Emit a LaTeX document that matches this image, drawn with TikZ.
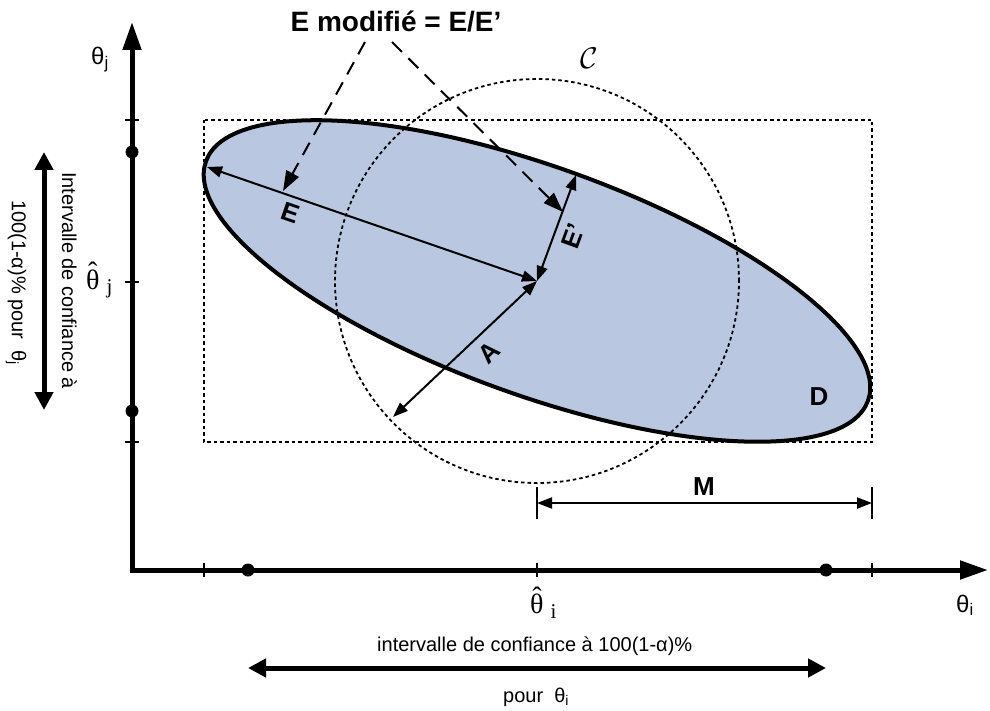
\RequirePackage{fix-cm}
\documentclass[tikz,border=0pt]{standalone}
\usepackage{fontspec}
\setmainfont{Liberation Sans}
\newfontfamily\serif{Liberation Serif}
\usetikzlibrary{arrows.meta}
\definecolor{fillblue}{RGB}{185,200,224}
\newcommand\thhat{\leavevmode\hbox{\serif\ooalign{θ\cr\hidewidth\raisebox{7pt}{ˆ}\hidewidth\cr}}}
\begin{document}
\begin{tikzpicture}[x=1pt,y=-1pt,
  axis/.style={line width=5pt, line join=miter,
    {Triangle[length=28pt,width=18pt]}-{Triangle[length=28pt,width=18pt]}},
  tickmark/.style={line width=2pt},
  dotnode/.style={circle, fill=black, inner sep=0pt, minimum size=13pt},
  dotline/.style={line width=1.8pt, dash pattern=on 3.5pt off 3pt},
  ell/.style={line width=4pt, fill=fillblue},
  measure/.style={line width=2pt,
    {Triangle[length=15pt,width=11pt]}-{Triangle[length=15pt,width=11pt]}},
  pointer/.style={line width=2pt, dash pattern=on 14pt off 9pt,
    -{Triangle[length=20pt,width=14pt]}},
  bigdbl/.style={line width=5pt,
    {Triangle[length=18pt,width=18pt]}-{Triangle[length=18pt,width=18pt]}},
  lab/.style={font=\fontsize{26}{30}\selectfont\bfseries, inner sep=0pt},
  txt/.style={font=\fontsize{20}{24}\selectfont, inner sep=0pt},
  axlab/.style={font=\fontsize{24}{28}\selectfont, inner sep=0pt},
  hatlab/.style={font=\fontsize{28}{32}\selectfont, inner sep=0pt}
]
\useasboundingbox (0,0) rectangle (990,711);

% centre of the ellipse
\coordinate (C) at (537,281);

% ellipse
\draw[ell, rotate around={-19.9:(C)}] (C) ellipse [x radius=352pt, y radius=114pt];

% dotted rectangle and circle
\draw[dotline] (204,120) rectangle (872,442);
\draw[dotline] (C) circle [radius=202pt];

% axes
\coordinate (O) at (132,570);
\coordinate (ytip) at (132,22);
\coordinate (xtip) at (988,570);
\draw[axis] (ytip) -- (O) -- (xtip);

% ticks on the vertical axis
\foreach \yy/\nm in {120/ta,282/tb,442/tc}{
  \coordinate (\nm1) at (125,\yy); \coordinate (\nm2) at (139,\yy);
  \draw[tickmark] (\nm1) -- (\nm2);}
% ticks on the horizontal axis
\foreach \xx/\nm in {204/sa,537/sb,872/sc}{
  \coordinate (\nm1) at (\xx,563); \coordinate (\nm2) at (\xx,577);
  \draw[tickmark] (\nm1) -- (\nm2);}

% dots
\node[dotnode] (dj1) at (132,152) {};
\node[dotnode] (dj2) at (132,411) {};
\node[dotnode] (di1) at (248,570) {};
\node[dotnode] (di2) at (826,570) {};

% axis labels
\node[axlab, anchor=base west] (thj) at (91,65) {θ\textsubscript{j}};
\node[axlab, anchor=base west] (thi) at (956,612) {θ\textsubscript{i}};
\node[hatlab, anchor=base west] (thhj) at (86,289)
  {\thhat\hspace{7pt}\raisebox{-5pt}{\fontsize{21}{24}\selectfont\serif j}};
\node[hatlab, anchor=base west] (thhi) at (530,613)
  {\thhat\hspace{7pt}\raisebox{-5pt}{\fontsize{21}{24}\selectfont\serif i}};

% semi-axes
\coordinate (Eend) at (207,167);
\coordinate (Epend) at (576,175);
\coordinate (Aend) at (393,417);
\draw[measure] (Eend) -- (C);
\draw[measure] (C) -- (Epend);
\draw[measure] (C) -- (Aend);

\node[lab, rotate=-19] (Elab) at (291,213) {E};
\node[lab, rotate=70] (Eplab) at (573,236) {E’};
\node[lab, rotate=44] (Alab) at (489,353) {A};
\node[lab] (Dlab) at (819,397) {D};

% title and pointers
\node[font=\fontsize{28}{32}\selectfont\bfseries, inner sep=0pt, anchor=base] (title) at (396,32) {E modifié = E/E’};
\coordinate (p1s) at (365,42);
\coordinate (p1e) at (283,191);
\coordinate (p2s) at (392,42);
\coordinate (p2e) at (563,212);
\draw[pointer] (p1s) -- (p1e);
\draw[pointer] (p2s) -- (p2e);

% circle label
\node[inner sep=0pt, font=\fontsize{30}{34}\selectfont] (Clab) at (589,58) {$\mathcal{C}$};

% M
\coordinate (Ma) at (537,503);
\coordinate (Mb) at (872,503);
\coordinate (Ma1) at (537,487); \coordinate (Ma2) at (537,519);
\coordinate (Mb1) at (872,487); \coordinate (Mb2) at (872,519);
\draw[tickmark] (Ma1) -- (Ma2);
\draw[tickmark] (Mb1) -- (Mb2);
\draw[measure] (Ma) -- (Mb);
\node[lab] (Mlab) at (704,487) {M};

% left confidence interval
\coordinate (La) at (44,152);
\coordinate (Lb) at (44,410);
\draw[bigdbl] (La) -- (Lb);
\node[txt, rotate=-90, anchor=base west] (v1) at (62,172) {Intervalle de confiance à};
\node[txt, rotate=-90, anchor=base west] (v2) at (12,200) {100(1-α)\% pour\ \ θ\textsubscript{j}};

% bottom confidence interval
\coordinate (Ba) at (248,668);
\coordinate (Bb) at (826,668);
\draw[bigdbl] (Ba) -- (Bb);
\node[txt, anchor=base west] (b1) at (377,651) {intervalle de confiance à 100(1-α)\%};
\node[txt, anchor=base west] (b2) at (503,702) {pour\ \ θ\textsubscript{i}};
\end{tikzpicture}
\end{document}
